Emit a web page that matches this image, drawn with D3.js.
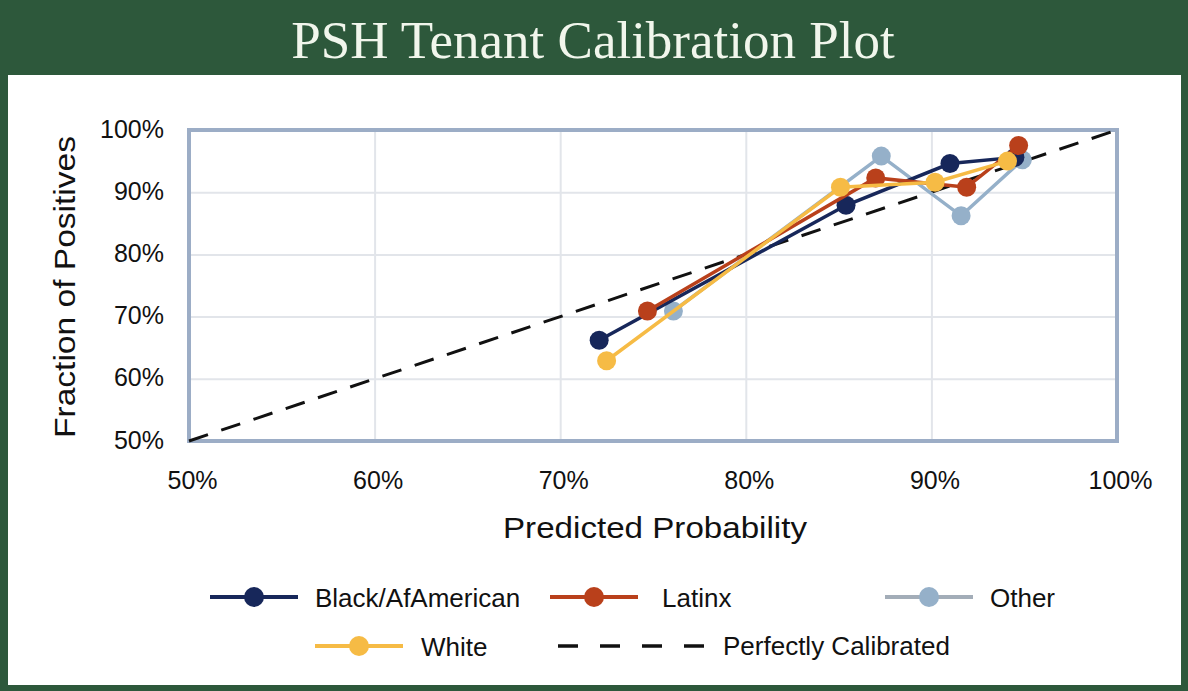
<!DOCTYPE html>
<html>
<head>
<meta charset="utf-8">
<script src="https://cdn.jsdelivr.net/npm/d3@7"></script>
<style>
  body { margin: 0; background: #2d583b; }
  svg { display: block; }
</style>
</head>
<body>
<div id="chart"></div>
<script>
// values (percent)
const seriesNames = ["Black/AfAmerican", "Latinx", "Other", "White"];
const blackPred = [72.1, 85.4, 91.0, 94.5];
const blackFrac = [66.2, 87.9, 94.6, 95.6];
const latinxPred = [74.7, 87.0, 91.9, 94.7];
const latinxFrac = [70.9, 92.3, 90.8, 97.5];
const otherPred = [76.1, 87.3, 91.6, 94.9];
const otherFrac = [70.9, 95.8, 86.2, 95.2];
const whitePred = [72.5, 85.1, 90.2, 94.1];
const whiteFrac = [62.9, 90.8, 91.6, 95.0];
const diagonal = [50, 100];
const xTicks = [50, 60, 70, 80, 90, 100];
const yTicks = [50, 60, 70, 80, 90, 100];

var W = 1188, H = 691;
var margin = { top: 130, right: 70, bottom: 250, left: 189 },
  width = 1117 - margin.left,
  height = 441 - margin.top;

var colors = {
  "Black/AfAmerican": "#17275a",
  "Latinx": "#b9401b",
  "Other": "#95b0c9",
  "White": "#f6bb45"
};
var sans = "'Liberation Sans', Arial, sans-serif";

var svg = d3.select("#chart").append("svg")
  .attr("width", W)
  .attr("height", H);

// background panel
svg.append("rect").attr("x", 0).attr("y", 0).attr("width", W).attr("height", H).style("fill", "#2d583b");
svg.append("rect").attr("x", 8).attr("y", 75).attr("width", 1173).attr("height", 610).style("fill", "#ffffff");

svg.append("text")
  .attr("x", 593)
  .attr("y", 58)
  .style("text-anchor", "middle")
  .style("font-family", "'Liberation Serif', 'DejaVu Serif', serif")
  .style("font-size", "53px")
  .style("fill", "#f1f6ec")
  .text("PSH Tenant Calibration Plot");

var g = svg.append("g")
  .attr("transform", "translate(" + margin.left + "," + margin.top + ")");

var x = d3.scaleLinear().domain([50, 100]).range([0, width]);
var y = d3.scaleLinear().domain([50, 100]).range([height, 0]);

// gridlines
g.append("g")
  .attr("class", "grid")
  .attr("transform", "translate(0," + height + ")")
  .call(d3.axisBottom(x).tickValues(xTicks).tickSize(-height).tickFormat(""))
  .call(a => a.select(".domain").remove())
  .selectAll("line").style("stroke", "#e2e5ea").style("stroke-width", 2);

g.append("g")
  .attr("class", "grid")
  .call(d3.axisLeft(y).tickValues(yTicks).tickSize(-width).tickFormat(""))
  .call(a => a.select(".domain").remove())
  .selectAll("line").style("stroke", "#e2e5ea").style("stroke-width", 2);

// tick labels
var xAxis = g.append("g")
  .attr("transform", "translate(0," + height + ")")
  .call(d3.axisBottom(x).tickValues(xTicks).tickSize(0).tickPadding(30).tickFormat(d => d + "%"));
xAxis.select(".domain").remove();
xAxis.selectAll("text")
  .attr("dx", 3)
  .style("font-family", sans)
  .style("font-size", "25px")
  .style("fill", "#111");

var yAxis = g.append("g")
  .call(d3.axisLeft(y).tickValues(yTicks).tickSize(0).tickPadding(25).tickFormat(d => d + "%"));
yAxis.select(".domain").remove();
yAxis.selectAll("text")
  .attr("dy", "0.28em")
  .style("font-family", sans)
  .style("font-size", "25px")
  .style("fill", "#111");

// frame
g.append("rect")
  .attr("x", 0).attr("y", 0)
  .attr("width", width).attr("height", height)
  .style("fill", "none")
  .style("stroke", "#9cadc6")
  .style("stroke-width", 4);

// perfectly calibrated line
var line = d3.line()
  .x(d => x(d[0]))
  .y(d => y(d[1]));

g.append("path")
  .datum(diagonal.map(v => [v, v]))
  .attr("d", line)
  .style("fill", "none")
  .style("stroke", "#111")
  .style("stroke-width", 3)
  .style("stroke-dasharray", "20,14");

var series = [
  { name: "Other", pred: otherPred, frac: otherFrac },
  { name: "Black/AfAmerican", pred: blackPred, frac: blackFrac },
  { name: "Latinx", pred: latinxPred, frac: latinxFrac },
  { name: "White", pred: whitePred, frac: whiteFrac }
];

series.forEach(function (s) {
  var pts = s.pred.map((p, i) => [p, s.frac[i]]);
  g.append("path")
    .datum(pts)
    .attr("d", line)
    .style("fill", "none")
    .style("stroke", colors[s.name])
    .style("stroke-width", 3.5);
  g.selectAll(null)
    .data(pts)
    .enter().append("circle")
    .attr("cx", d => x(d[0]))
    .attr("cy", d => y(d[1]))
    .attr("r", 9.5)
    .style("fill", colors[s.name]);
});

// axis titles
svg.append("text")
  .attr("transform", "translate(75,287) rotate(-90)")
  .attr("textLength", 302)
  .attr("lengthAdjust", "spacingAndGlyphs")
  .style("text-anchor", "middle")
  .style("font-family", sans)
  .style("font-size", "30px")
  .style("fill", "#111")
  .text("Fraction of Positives");

svg.append("text")
  .attr("x", 655)
  .attr("y", 538)
  .attr("textLength", 304)
  .attr("lengthAdjust", "spacingAndGlyphs")
  .style("text-anchor", "middle")
  .style("font-family", sans)
  .style("font-size", "29px")
  .style("fill", "#111")
  .text("Predicted Probability");

// legend
var legendItems = [
  { name: "Black/AfAmerican", lx: 210, ly: 597, tx: 315 },
  { name: "Latinx", lx: 550, ly: 597, tx: 662 },
  { name: "Other", lx: 885, ly: 597, tx: 990 },
  { name: "White", lx: 315, ly: 646, tx: 421 }
];

legendItems.forEach(function (it) {
  svg.append("line")
    .attr("x1", it.lx).attr("x2", it.lx + 88)
    .attr("y1", it.ly).attr("y2", it.ly)
    .style("stroke", it.name == "Other" ? "#a3adb8" : colors[it.name])
    .style("stroke-width", 4);
  svg.append("circle")
    .attr("cx", it.lx + 44).attr("cy", it.ly).attr("r", 10)
    .style("fill", colors[it.name]);
  svg.append("text")
    .attr("x", it.tx).attr("y", it.ly + 10)
    .style("font-family", sans)
    .style("font-size", "26px")
    .style("fill", "#111")
    .text(it.name);
});

svg.append("line")
  .attr("x1", 558).attr("x2", 712)
  .attr("y1", 646).attr("y2", 646)
  .style("stroke", "#111")
  .style("stroke-width", 3.5)
  .style("stroke-dasharray", "20,22");
svg.append("text")
  .attr("x", 723).attr("y", 655)
  .style("font-family", sans)
  .style("font-size", "26px")
  .style("fill", "#111")
  .text("Perfectly Calibrated");
</script>
</body>
</html>
